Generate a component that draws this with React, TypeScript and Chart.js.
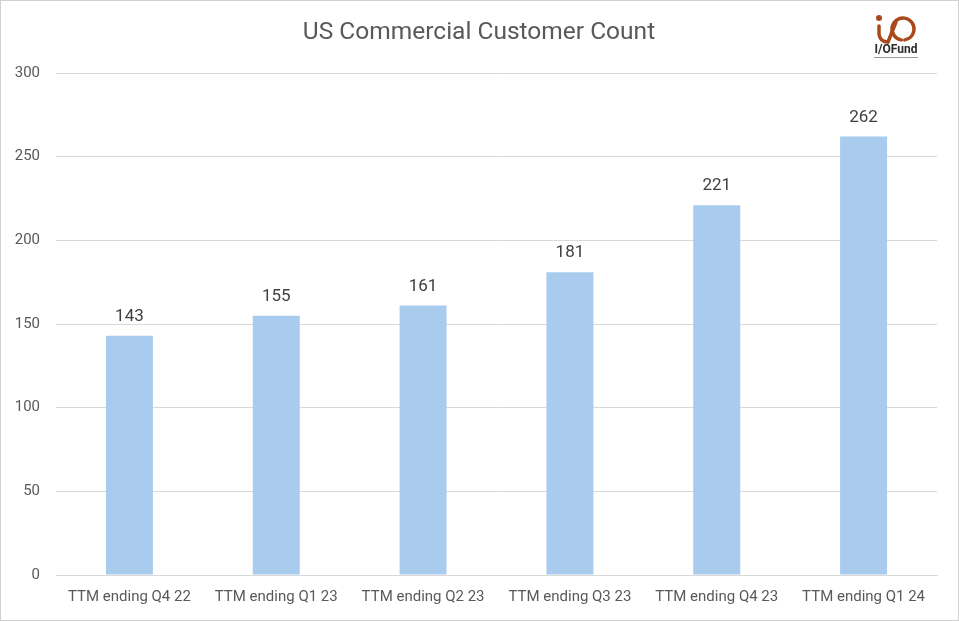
import React, { useEffect, useRef } from "react";
import { Chart, registerables } from "chart.js";

Chart.register(...registerables);

const categories = [
  "TTM ending Q4 22",
  "TTM ending Q1 23",
  "TTM ending Q2 23",
  "TTM ending Q3 23",
  "TTM ending Q4 23",
  "TTM ending Q1 24",
];
const customerCounts = [143, 155, 161, 181, 221, 262];
const titleText = "US Commercial Customer Count";
const logoText = "I/OFund";

const FONT = "Roboto, 'Liberation Sans', sans-serif";

const decorPlugin = {
  id: "decor",
  beforeDraw(chart: any) {
    const { ctx, width, height } = chart;
    ctx.save();
    ctx.fillStyle = "#ffffff";
    ctx.fillRect(0, 0, width, height);
    ctx.restore();
  },
  afterDraw(chart: any) {
    const { ctx, width, height } = chart;
    ctx.save();
    // border
    ctx.strokeStyle = "#d0d0d0";
    ctx.lineWidth = 1;
    ctx.strokeRect(0.5, 0.5, width - 1, height - 1);
    // title
    ctx.fillStyle = "#595959";
    ctx.font = `24.5px ${FONT}`;
    ctx.textAlign = "center";
    ctx.textBaseline = "middle";
    ctx.fillText(titleText, 479, 33);
    // data labels
    const meta = chart.getDatasetMeta(0);
    ctx.fillStyle = "#404040";
    ctx.font = `17px ${FONT}`;
    meta.data.forEach((bar: any, i: number) => {
      ctx.fillText(String(customerCounts[i]), bar.x, bar.y - 19);
    });
    // logo
    const c = "#A9491C";
    ctx.fillStyle = c;
    ctx.strokeStyle = c;
    ctx.lineCap = "round";
    ctx.lineWidth = 3.5;
    ctx.beginPath();
    ctx.arc(879, 18, 3, 0, Math.PI * 2);
    ctx.fill();
    ctx.beginPath();
    ctx.moveTo(879, 26);
    ctx.lineTo(879, 34);
    ctx.quadraticCurveTo(880, 42, 888, 42);
    ctx.stroke();
    ctx.beginPath();
    ctx.arc(903, 29, 11, Math.PI * 0.55, Math.PI * 2.45);
    ctx.stroke();
    ctx.beginPath();
    ctx.moveTo(888, 42);
    ctx.lineTo(896, 22);
    ctx.stroke();
    ctx.fillStyle = "#2b2b2b";
    ctx.font = `bold 12px ${FONT}`;
    ctx.textAlign = "center";
    ctx.fillText(logoText, 896, 50);
    ctx.fillStyle = "#9a9a9a";
    ctx.fillRect(874, 57, 44, 1);
    ctx.restore();
  },
};

export default function App() {
  const ref = useRef<HTMLCanvasElement>(null);
  useEffect(() => {
    const chart = new Chart(ref.current!, {
      type: "bar",
      data: {
        labels: categories,
        datasets: [
          {
            data: customerCounts,
            backgroundColor: "#A9CBEE",
            borderWidth: 0,
            categoryPercentage: 1,
            barPercentage: 0.32,
          },
        ],
      },
      options: {
        animation: false,
        responsive: false,
        maintainAspectRatio: false,
        layout: { padding: { top: 73, right: 22, left: 0, bottom: 0 } },
        plugins: {
          legend: { display: false },
          tooltip: { enabled: false },
          title: { display: false },
        },
        scales: {
          x: {
            grid: { display: false, drawTicks: false },
            border: { display: true, color: "#d9d9d9", width: 1 },
            ticks: {
              color: "#595959",
              font: { family: FONT, size: 15 },
              padding: 13,
              maxRotation: 0,
              autoSkip: false,
            },
            afterFit(scale: any) {
              scale.height = 46;
            },
          },
          y: {
            min: 0,
            max: 300,
            grid: { color: "#d9d9d9", drawTicks: false },
            border: { display: false },
            ticks: {
              stepSize: 50,
              color: "#595959",
              font: { family: FONT, size: 15 },
              padding: 16,
            },
            afterFit(scale: any) {
              scale.width = 56;
            },
          },
        },
      },
      plugins: [decorPlugin],
    });
    return () => chart.destroy();
  }, []);
  return (
    <div style={{ position: "fixed", left: 0, top: 0, width: 959, height: 621 }}>
      <canvas ref={ref} width={959} height={621} style={{ width: 959, height: 621 }} />
    </div>
  );
}
